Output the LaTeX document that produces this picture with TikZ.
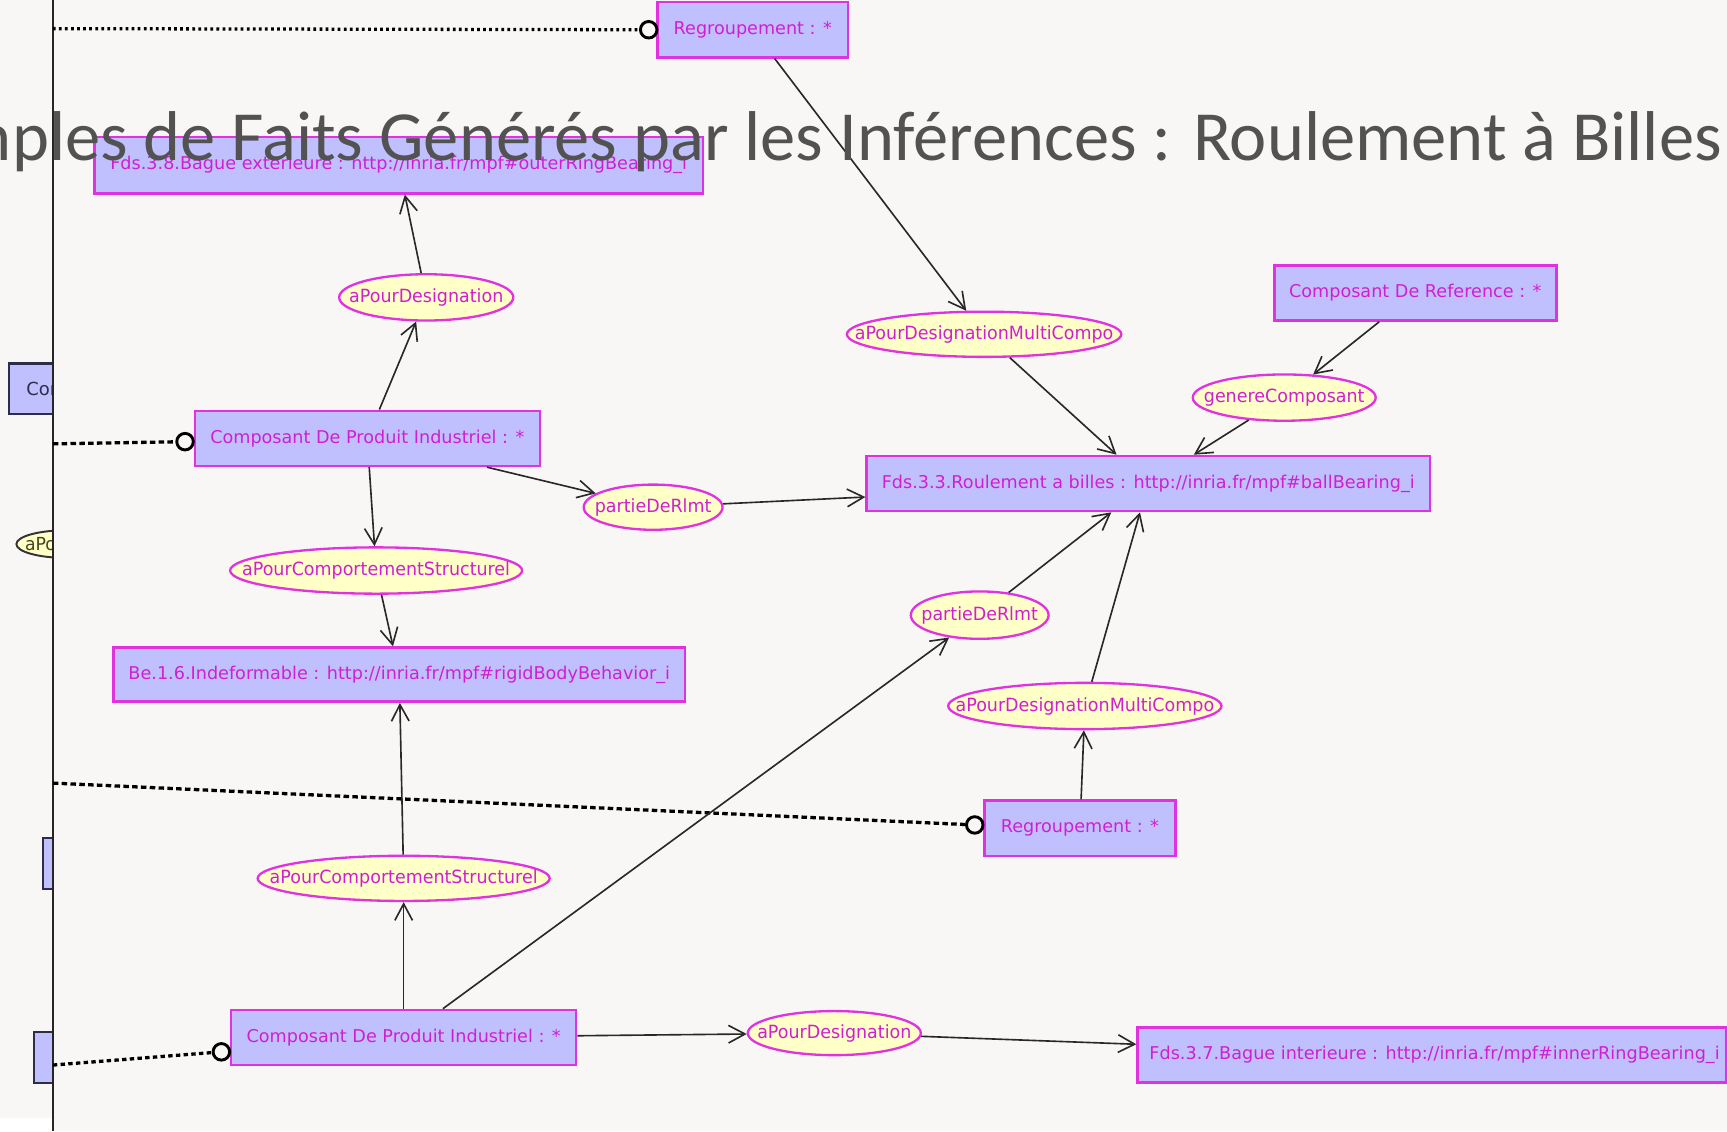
\documentclass[tikz,border=0pt]{standalone}
\usepackage{fontspec}
\usetikzlibrary{shapes.geometric,arrows.meta}
\newfontfamily\boxfont{DejaVu Sans}
\newfontfamily\relfont[FakeStretch=0.96]{DejaVu Sans}
\newfontfamily\titlefont{Carlito}
\definecolor{bg}{RGB}{248,247,245}
\definecolor{boxfill}{RGB}{192,192,255}
\definecolor{relfill}{RGB}{255,255,200}
\definecolor{mag}{RGB}{225,50,225}
\definecolor{magtext}{RGB}{210,30,210}
\definecolor{edgecol}{RGB}{40,40,40}
\definecolor{titlegray}{RGB}{82,82,82}
\definecolor{navy}{RGB}{45,45,75}
\definecolor{olive}{RGB}{70,70,30}
% zero-width wrapper so an ellipse keeps its given size
\newcommand{\rlab}[1]{\makebox[0pt]{#1}}
\tikzset{
  inst/.style={rectangle, draw=mag, fill=boxfill, text=magtext, line width=0.65pt,
    inner sep=0pt, minimum height=0.50cm,
    font=\boxfont\fontsize{4.55pt}{5.5pt}\selectfont},
  rel/.style={ellipse, draw=mag, fill=relfill, text=magtext, line width=0.6pt,
    inner sep=0pt, minimum height=0.42cm,
    font=\relfont\fontsize{4.7pt}{5.5pt}\selectfont},
  ghostbox/.style={rectangle, draw=navy, fill=boxfill, text=navy, line width=0.55pt,
    inner ysep=0pt, minimum height=0.46cm,
    font=\boxfont\fontsize{4.64pt}{5.5pt}\selectfont},
  link/.style={draw=edgecol, line width=0.42pt,
    -{Straight Barb[length=0.15cm,width=0.16cm,line width=0.42pt]}},
  port/.style={circle, draw=black, fill=bg, line width=0.75pt,
    minimum size=0.15cm, inner sep=0pt},
  tie/.style={draw=black, line width=0.85pt, dash pattern=on 0.05cm off 0.03cm},
  tiedot/.style={draw=black, line width=0.85pt, dash pattern=on 0.025cm off 0.03cm},
}
\begin{document}
\begin{tikzpicture}[x=0.01cm, y=-0.01cm]
\useasboundingbox (0,0) rectangle (1568,1027);
\fill[bg] (0,0) rectangle (1568,1027);
\begin{scope}
\clip (0,0) rectangle (1568,1027);

% ---- neighbouring panel, cut off by the frame line ----
\begin{scope}
  \clip (0,0) rectangle (48,1027);
  \node[ghostbox, anchor=west, inner xsep=0.14cm, minimum width=0.6cm] (ghostA) at (7,353) {Cor};
  \node[ellipse, draw=black!80, fill=relfill, line width=0.5pt, inner sep=0pt,
        minimum width=0.9cm, minimum height=0.25cm, anchor=west] (ghostB) at (14,494) {};
  \node[anchor=west, inner sep=0pt, text=olive,
        font=\relfont\fontsize{4.64pt}{5.5pt}\selectfont] (ghostBtext) at (22,494) {aPo};
  \node[ghostbox, anchor=north west, minimum width=0.3cm] (ghostC) at (38,760) {};
  \node[ghostbox, anchor=north west, minimum width=0.3cm] (ghostD) at (30,936) {};
  \fill[white] (0,1015) rectangle (48,1027);
\end{scope}
\draw[line width=0.6pt, black!85] (48,0) -- (48,1027);

% ---- instance boxes ----
\node[inst, minimum width=1.73cm] (R1) at (683.5,27) {Regroupement : *};
\node[inst, minimum width=5.52cm, minimum height=0.51cm] (OR) at (362,150)
  {Fds.3.8.Bague exterieure : http://inria.fr/mpf\#outerRingBearing\_i};
\node[inst, minimum width=3.13cm] (CPI1) at (333.5,398) {Composant De Produit Industriel : *};
\node[inst, minimum width=5.19cm, minimum height=0.49cm] (BE) at (362.5,612.5)
  {Be.1.6.Indeformable : http://inria.fr/mpf\#rigidBodyBehavior\_i};
\node[inst, minimum width=5.11cm] (RB) at (1042.5,439)
  {Fds.3.3.Roulement a billes : http://inria.fr/mpf\#ballBearing\_i};
\node[inst, minimum width=2.56cm] (CR) at (1285,266) {Composant De Reference : *};
\node[inst, minimum width=1.73cm] (R2) at (980.5,752) {Regroupement : *};
\node[inst, minimum width=3.13cm] (CPI2) at (366.5,942) {Composant De Produit Industriel : *};
\node[inst, minimum width=5.34cm] (IR) at (1300,958)
  {\hspace*{0.05cm}Fds.3.7.Bague interieure : http://inria.fr/mpf\#innerRingBearing\_i};

% ---- relation ellipses ----
\node[rel, minimum width=1.58cm] (aPD1) at (387,270) {\rlab{aPourDesignation}};
\node[rel, minimum width=2.49cm, minimum height=0.41cm] (aPDMC1) at (893.5,303.5) {\rlab{aPourDesignationMultiCompo}};
\node[rel, minimum width=1.66cm] (gC) at (1166,361) {\rlab{genereComposant}};
\node[rel, minimum width=1.26cm, minimum height=0.41cm] (pDR1) at (593,460.5) {\rlab{partieDeRlmt}};
\node[rel, minimum width=2.65cm] (aPCS1) at (341.5,518) {\rlab{aPourComportementStructurel}};
\node[rel, minimum width=1.25cm, minimum height=0.43cm] (pDR2) at (889.5,558.5) {\rlab{partieDeRlmt}};
\node[rel, minimum width=2.48cm] (aPDMC2) at (985,641) {\rlab{aPourDesignationMultiCompo}};
\node[rel, minimum width=2.65cm, minimum height=0.41cm] (aPCS2) at (366.5,797.5) {\rlab{aPourComportementStructurel}};
\node[rel, minimum width=1.57cm, minimum height=0.40cm] (aPD2) at (757.5,938) {\rlab{aPourDesignation}};

% ---- group ties ----
\node[port] (c1) at (589,27) {};
\node[port] (c2) at (168,401) {};
\node[port] (c3) at (885,749) {};
\node[port] (c4) at (201,955) {};
\coordinate (t1) at (48,26);
\coordinate (t2) at (48,403);
\coordinate (t3) at (48,711);
\coordinate (t4) at (48,967);
\draw[tiedot] (t1) -- (c1);
\draw[tie] (t2) -- (c2);
\draw[tie] (t3) -- (c3);
\draw[tie, dash pattern=on 0.04cm off 0.03cm] (t4) -- (c4);

% ---- relations ----
\draw[link] (R1) -- (aPDMC1);
\draw[link] (aPDMC1) -- (RB);
\draw[link] (CR) -- (gC);
\draw[link] (gC) -- (RB);
\draw[link] (CPI1) -- (aPD1);
\draw[link] (aPD1) -- (OR);
\draw[link] (CPI1) -- (aPCS1);
\draw[link] (aPCS1) -- (BE);
\draw[link] (CPI1) -- (pDR1);
\draw[link] (pDR1) -- (RB);
\draw[link] (CPI2) -- (aPCS2);
\draw[link] (aPCS2) -- (BE);
\draw[link] (CPI2) -- (pDR2);
\draw[link] (pDR2) -- (RB);
\draw[link] (R2) -- (aPDMC2);
\draw[link] (aPDMC2) -- (RB);
\draw[link] (CPI2) -- (aPD2);
\draw[link] (aPD2) -- (IR);

% ---- slide title over the diagram ----
\node[anchor=base east, inner sep=0pt, text=titlegray,
      font=\titlefont\fontsize{18.2pt}{20pt}\selectfont] (title) at (1564,146)
  {Exemples de Faits Générés par les Inférences : Roulement à Billes};
\end{scope}
\end{tikzpicture}
\end{document}
